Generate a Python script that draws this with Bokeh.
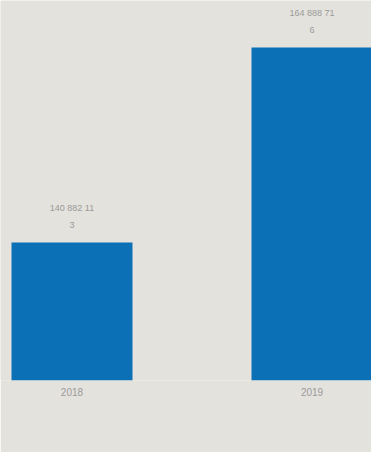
from bokeh.plotting import figure
from bokeh.models import Range1d, ColumnDataSource, Legend, LegendItem, FixedTicker
from bokeh.core.properties import value
from bokeh.embed import file_html
from bokeh.resources import INLINE

categories = ["2018", "2019"]
values = [140882113, 164888716]
series_name = "Россия"

bg = "#e4e2dd"
bar_color = "#0b70b6"

pos = list(range(len(categories)))
labels = []
for v in values:
    s = f"{v:,}".replace(",", " ")
    labels.append(s[:-1] + "\n" + s[-1])

src = ColumnDataSource(dict(x=pos, top=values, label=labels))

y_start = 123_890_000
y_end = 170_670_000

p = figure(frame_width=371, frame_height=380,
           output_backend="svg", toolbar_location=None,
           x_range=Range1d(-0.2979, 1.2479), y_range=Range1d(y_start, y_end),
           min_border_top=0, min_border_left=0, min_border_right=0, min_border_bottom=72,
           background_fill_color=bg, border_fill_color=bg, outline_line_color=None)

r = p.vbar(x="x", top="top", bottom=y_start, width=0.504, source=src,
           fill_color=bar_color, line_color=None)

p.text(x="x", y="top", text="label", source=src, text_align="center",
       text_baseline="bottom", y_offset=-12, text_font=value("Liberation Sans"),
       text_font_size="9px", text_color="#9a9a9a", text_line_height=1.7)

p.xgrid.visible = False
p.ygrid.visible = False
p.yaxis.visible = False
p.xaxis.ticker = FixedTicker(ticks=pos)
p.xaxis.major_label_overrides = {i: c for i, c in enumerate(categories)}
p.xaxis.axis_line_color = None
p.xaxis.major_tick_line_color = None
p.xaxis.major_tick_out = 0
p.xaxis.major_tick_in = 0
p.xaxis.minor_tick_line_color = None
p.xaxis.major_label_standoff = 7
p.xaxis.major_label_text_font = "Liberation Sans"
p.xaxis.major_label_text_font_size = "10px"
p.xaxis.major_label_text_color = "#9a9a9a"

legend = Legend(items=[LegendItem(label=series_name, renderers=[r])],
                orientation="horizontal", location=(153, -70),
                background_fill_alpha=0, border_line_color=None,
                label_text_font="Liberation Sans", label_text_font_size="11px",
                label_text_color="#9a9a9a", glyph_width=8, glyph_height=8,
                label_height=12, label_standoff=6, margin=0, padding=2)
p.add_layout(legend)

open("out.html", "w").write(file_html(p, INLINE))
